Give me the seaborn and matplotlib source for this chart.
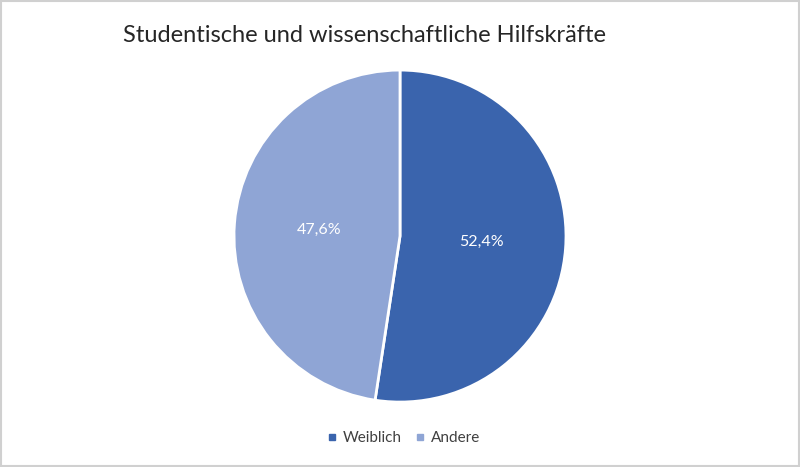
import matplotlib
matplotlib.use("Agg")
import matplotlib.pyplot as plt
import seaborn as sns
from matplotlib.lines import Line2D

# Data
categories = ["Weiblich", "Andere"]
shares = [52.4, 47.6]
colors = ["#3A64AD", "#8FA5D5"]
title = "Studentische und wissenschaftliche Hilfskräfte"

sns.set_theme(style="white")
plt.rcParams["font.family"] = ["Lato", "DejaVu Sans"]

fig = plt.figure(figsize=(8, 4.67), dpi=100)
ax = fig.add_axes([0.2925, 0.139, 0.415, 0.711])


def fmt_pct(p):
    return f"{p:.1f}".replace(".", ",") + "%"


wedges, texts, autotexts = ax.pie(
    shares,
    colors=colors,
    startangle=90,
    counterclock=False,
    autopct=fmt_pct,
    pctdistance=0.49,
    wedgeprops={"edgecolor": "white", "linewidth": 2},
    textprops={"color": "white", "fontsize": 11.5},
)
ax.set_aspect("equal")
ax.set_xlim(-1.0, 1.0)
ax.set_ylim(-1.0, 1.0)

fig.text(0.154, 0.925, title, fontsize=17, color="#262626", ha="left", va="center")

handles = [
    Line2D([0], [0], marker="s", color="none", markerfacecolor=c,
           markeredgecolor=c, markersize=5)
    for c in colors
]
fig.legend(handles, categories, loc="center", bbox_to_anchor=(0.505, 0.062),
           ncol=2, frameon=False, fontsize=11, handlelength=0.6,
           handletextpad=0.4, columnspacing=0.9, labelcolor="#404040")

# light grey frame around the chart area
fig.patches.append(plt.Rectangle((0.001, 0.002), 0.998, 0.996, transform=fig.transFigure,
                                 fill=False, edgecolor="#D0D0D0", linewidth=1.5))

fig.savefig("out.png", dpi=100, facecolor="white")
